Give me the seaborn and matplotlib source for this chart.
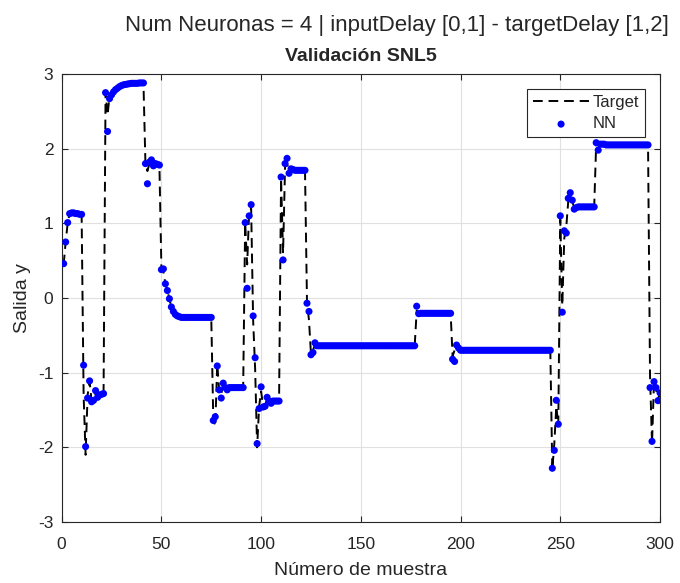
import matplotlib
matplotlib.use("Agg")
import numpy as np
import pandas as pd
import matplotlib.pyplot as plt
import seaborn as sns

# Salida de la red neuronal (NN), muestras 1..300
nn = (
    [0.46, 0.75, 1.01, 1.13, 1.14, 1.14, 1.13, 1.13, 1.12, 1.12]                      # 1-10
    + [-0.90, -1.99, -1.34, -1.11, -1.39, -1.37, -1.24, -1.33, -1.30, -1.29, -1.28]   # 11-21
    + [2.75, 2.23, 2.67, 2.72, 2.76, 2.79, 2.81, 2.83, 2.845, 2.855, 2.86, 2.865,
       2.87, 2.875, 2.875, 2.875, 2.875, 2.88, 2.88, 2.88]                            # 22-41
    + [1.80, 1.53, 1.82, 1.85, 1.77, 1.80, 1.79, 1.78]                                # 42-49
    + [0.38, 0.39, 0.19, 0.10, -0.01, -0.12, -0.18, -0.22, -0.24, -0.25]             # 50-59
    + [-0.26] * 16                                                                    # 60-75
    + [-1.64, -1.59, -0.91, -1.23, -1.34, -1.14, -1.20, -1.23]                       # 76-83
    + [-1.20] * 8                                                                     # 84-91
    + [1.01, 0.13, 1.10, 1.25, -0.24, -0.80, -1.95, -1.48, -1.19, -1.46,
       -1.45, -1.33, -1.38, -1.41]                                                    # 92-105
    + [-1.38] * 4                                                                     # 106-109
    + [1.62, 0.51, 1.80, 1.87, 1.67, 1.73, 1.72]                                      # 110-116
    + [1.71] * 6                                                                      # 117-122
    + [-0.07, -0.18, -0.76, -0.73, -0.60]                                             # 123-127
    + [-0.64] * 50                                                                    # 128-177
    + [-0.11, -0.21]                                                                  # 178-179
    + [-0.205] * 16                                                                   # 180-195
    + [-0.82, -0.85, -0.63, -0.67]                                                    # 196-199
    + [-0.70] * 46                                                                    # 200-245
    + [-2.28, -2.04, -1.37, -1.69, 1.10, -0.19, 0.90, 0.87, 1.335, 1.41,
       1.31, 1.19, 1.21, 1.22]                                                        # 246-259
    + [1.22] * 8                                                                      # 260-267
    + [2.08, 1.98, 2.06, 2.06, 2.06]                                                  # 268-272
    + [2.05] * 22                                                                     # 273-294
    + [-1.20, -1.92, -1.12, -1.20, -1.375, -1.27]                                     # 295-300
)

# Salida deseada (Target)
target = (
    [0.45, 0.75, 1.00, 1.13, 1.14, 1.14, 1.13, 1.13, 1.12, 1.12]
    + [-1.30, -2.10, -1.30, -1.12, -1.38, -1.36, -1.25, -1.32, -1.30, -1.29, -1.28]
    + [2.75, 2.45, 2.70, 2.73, 2.76, 2.79, 2.81, 2.83, 2.845, 2.855, 2.86, 2.865,
       2.87, 2.875, 2.875, 2.875, 2.875, 2.88, 2.88, 2.88]
    + [1.80, 1.70, 1.80, 1.84, 1.78, 1.79, 1.79, 1.78]
    + [0.40, 0.36, 0.19, 0.10, -0.01, -0.12, -0.18, -0.22, -0.24, -0.25]
    + [-0.26] * 16
    + [-1.60, -1.72, -0.88, -1.25, -1.30, -1.13, -1.20, -1.22]
    + [-1.20] * 8
    + [1.00, 0.45, 1.15, 1.20, -0.30, -0.95, -2.00, -1.45, -1.25, -1.45,
       -1.44, -1.35, -1.38, -1.40]
    + [-1.38] * 4
    + [1.60, 0.60, 1.75, 1.80, 1.70, 1.72, 1.72]
    + [1.71] * 6
    + [-0.05, -0.30, -0.75, -0.70, -0.62]
    + [-0.64] * 50
    + [-0.17, -0.19]
    + [-0.19] * 16
    + [-0.78, -0.70, -0.65, -0.69]
    + [-0.70] * 46
    + [-2.30, -1.95, -1.45, -1.70, 1.05, -0.10, 0.80, 0.95, 1.30, 1.38,
       1.30, 1.20, 1.21, 1.22]
    + [1.22] * 8
    + [2.07, 2.05, 2.06, 2.06, 2.06]
    + [2.05] * 22
    + [-1.05, -1.95, -1.10, -1.22, -1.35, -1.28]
)

muestras = np.arange(1, len(nn) + 1)
df = pd.DataFrame({"muestra": muestras, "target": target, "nn": nn})

sns.set_theme(style="whitegrid")
plt.rcParams['font.family'] = ['Liberation Sans', 'DejaVu Sans']
plt.rcParams['axes.unicode_minus'] = False
plt.rcParams['axes.edgecolor'] = '#262626'
plt.rcParams['axes.linewidth'] = 0.8
plt.rcParams['grid.color'] = '#e0e0e0'
plt.rcParams['grid.linewidth'] = 0.8

fig = plt.figure(figsize=(6.8, 5.83), dpi=100)
ax = fig.add_axes([0.0907, 0.1046, 0.8799, 0.7685])

sns.lineplot(data=df, x="muestra", y="target", ax=ax, color="black",
             linewidth=1.4, linestyle=(0, (5, 3)), label="Target",
             estimator=None, sort=False)
sns.scatterplot(data=df, x="muestra", y="nn", ax=ax, color=(0, 0, 1),
                s=26, edgecolor="none", label="NN", zorder=3)

ax.set_xlim(0, 300)
ax.set_ylim(-3, 3)
ax.set_xticks(range(0, 301, 50))
ax.set_yticks(range(-3, 4))
ax.grid(True)
for s in ax.spines.values():
    s.set_visible(True)
    s.set_color('#262626')
ax.tick_params(direction="in", length=4, width=0.8, color='#262626',
               labelcolor='#262626', labelsize=12.5, top=True, right=True,
               bottom=True, left=True)
ax.tick_params(axis="x", pad=11)
ax.tick_params(axis="y", pad=6)

ax.set_xlabel("Número de muestra", fontsize=14, color='#262626', labelpad=7)
ax.set_ylabel("Salida y", fontsize=14, color='#262626', labelpad=5)
ax.set_title("Validación SNL5", fontsize=14, fontweight="bold", pad=9)
fig.text(0.584, 0.947, "Num Neuronas = 4 | inputDelay [0,1] - targetDelay [1,2]",
         ha="center", va="baseline", fontsize=16)

leg = ax.legend(loc="upper right", bbox_to_anchor=(0.975, 0.9665), borderaxespad=0,
                fontsize=12, frameon=True, fancybox=False, framealpha=1,
                edgecolor='#262626', handlelength=3.4, handletextpad=0.2,
                labelspacing=0.4, borderpad=0.35)
leg.get_frame().set_linewidth(0.8)

fig.savefig("out.png", dpi=100)
